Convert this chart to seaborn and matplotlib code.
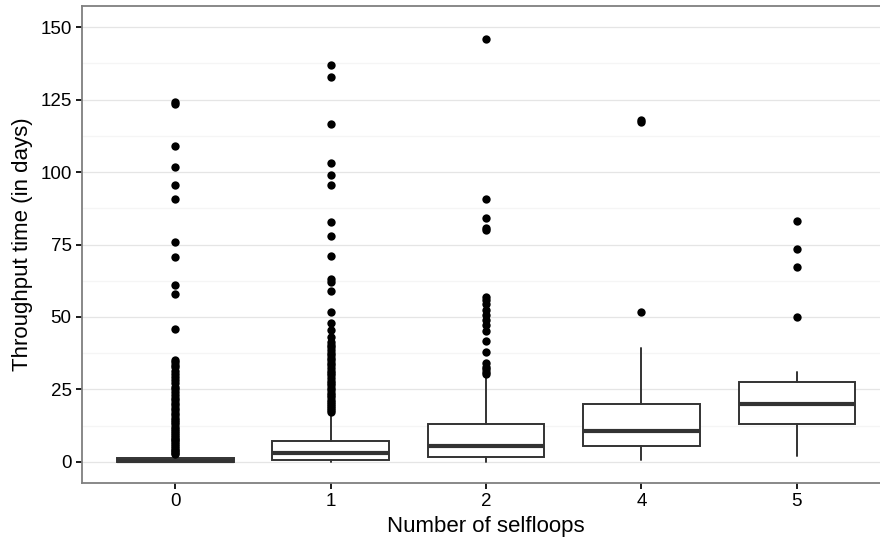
import numpy as np
import pandas as pd
import matplotlib
matplotlib.use("Agg")
import matplotlib.pyplot as plt
from matplotlib.ticker import MultipleLocator
import seaborn as sns

# categories on the x axis
categories = ["0", "1", "2", "4", "5"]

# box statistics (days)
whis_low = [0.0, 0.0, 0.1, 0.7, 2.1]
q1 = [0.05, 0.6, 1.8, 5.6, 13.1]
median = [0.4, 3.0, 5.6, 10.8, 20.0]
q3 = [1.2, 7.3, 13.1, 19.9, 27.5]
whis_high = [2.9, 16.8, 29.4, 39.4, 30.9]

# outliers per group
out_0 = [2.6, 3.1, 3.7, 4.2, 4.9, 5.5, 6.1, 6.8, 7.4, 8.0, 8.7, 9.3, 10.1,
         10.8, 11.5, 12.2, 13.0, 13.8, 14.5, 15.3, 16.1, 17.0, 17.8, 18.6,
         19.5, 20.4, 21.2, 22.1, 23.0, 24.0, 25.1, 26.0, 27.2, 28.1, 29.3,
         30.2, 31.4, 32.6, 33.5, 34.3, 35.2,
         45.7, 57.8, 61.0, 70.7, 75.7, 90.7, 95.7, 101.7, 109.0, 123.4, 124.3]
out_1 = [17.3, 17.9, 18.6, 19.3, 20.0, 20.8, 21.5, 22.3, 23.1, 23.9, 24.7,
         25.5, 26.4, 27.2, 28.0, 28.9, 29.8, 30.6, 31.5, 32.4, 33.3, 34.1,
         35.0, 35.9, 36.8, 37.7, 38.6, 39.5, 40.4, 41.3,
         43.2, 45.5, 48.0, 51.8, 59.0, 62.2, 63.0, 71.0, 78.0, 82.9, 95.7,
         99.0, 103.0, 116.6, 132.9, 137.1]
out_2 = [30.2, 31.1, 32.0, 32.9, 34.0, 38.0, 41.8, 45.3, 47.2, 49.0, 50.7,
         52.4, 54.5, 56.0, 57.0, 80.0, 80.6, 84.0, 90.7, 145.9]
out_4 = [51.8, 117.3, 117.9]
out_5 = [49.9, 67.1, 73.6, 83.0]

outliers = [out_0, out_1, out_2, out_4, out_5]

df = pd.DataFrame({
    "selfloops": [c for c, vals in zip(categories, outliers) for _ in vals],
    "throughput": [v for vals in outliers for v in vals],
})

sns.set_theme(style="white")
plt.rcParams["font.family"] = ["Liberation Sans", "DejaVu Sans"]

fig = plt.figure(figsize=(8.8, 5.44), dpi=100)
# the panel runs a little past the right edge of the picture, as in the reference
ax = fig.add_axes([0.0932, 0.1121, 0.9182, 0.8769])

# grid like ggplot theme_bw
ax.set_axisbelow(True)
ax.yaxis.set_major_locator(MultipleLocator(25))
ax.yaxis.set_minor_locator(MultipleLocator(12.5))
ax.grid(True, which="major", color="#e5e5e5", lw=0.9)
ax.grid(True, which="minor", axis="y", color="#f5f5f5", lw=0.9)

stats = []
for i in range(len(categories)):
    stats.append({"whislo": whis_low[i], "q1": q1[i], "med": median[i],
                  "q3": q3[i], "whishi": whis_high[i], "fliers": []})

ax.bxp(stats, positions=range(len(categories)), widths=0.75,
       showfliers=False, showcaps=False, patch_artist=True,
       boxprops=dict(facecolor="white", edgecolor="#333333", lw=1.4),
       medianprops=dict(color="#333333", lw=3.0, solid_capstyle="butt"),
       whiskerprops=dict(color="#333333", lw=1.4), zorder=2)

sns.stripplot(data=df, x="selfloops", y="throughput", order=categories,
              jitter=False, color="black", size=6, linewidth=0,
              ax=ax, zorder=3)

ax.set_xlim(-0.6, 4.6)
ax.set_ylim(-7.3, 157.3)
ax.set_xticks(range(len(categories)))
ax.set_xticklabels(categories)

for s in ax.spines.values():
    s.set_color("#7f7f7f")
    s.set_linewidth(1.3)

ax.tick_params(axis="both", which="major", length=4.5, width=1.4,
               color="#1a1a1a", labelsize=13.5, labelcolor="black",
               bottom=True, left=True, pad=3)
ax.tick_params(axis="both", which="minor", length=0)

ax.set_xlabel("Number of selfloops", fontsize=16, color="black", labelpad=4)
ax.set_ylabel("Throughput time (in days)", fontsize=16, color="black",
              labelpad=5)

fig.savefig("out.png", dpi=100)
